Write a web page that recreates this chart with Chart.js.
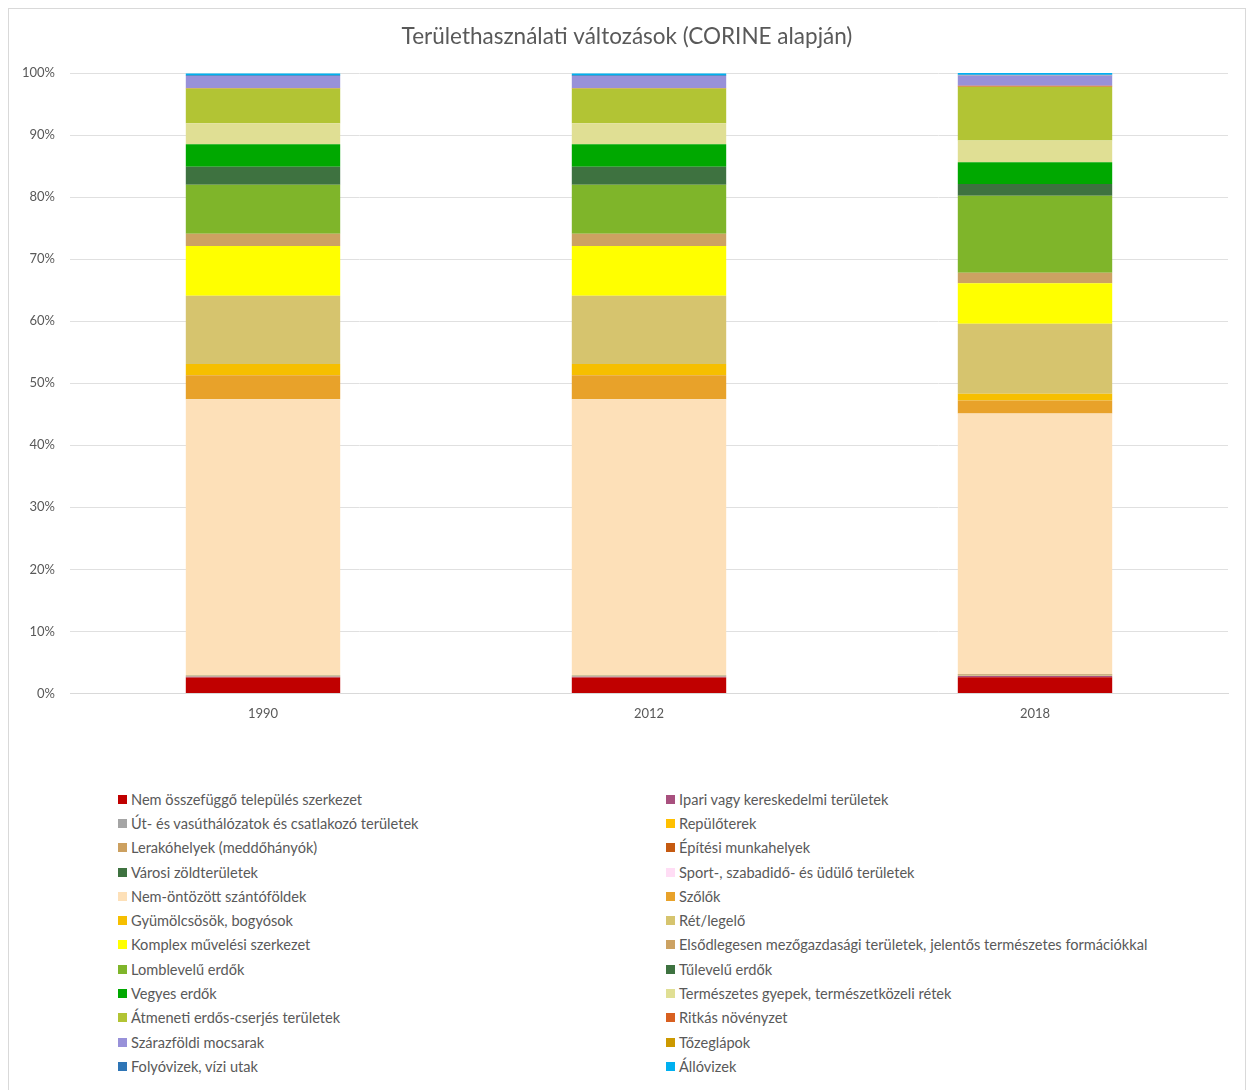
<!DOCTYPE html>
<html>
<head>
<meta charset="utf-8">
<script src="https://cdn.jsdelivr.net/npm/chart.js@4/dist/chart.umd.min.js"></script>
<style>
  html, body { margin: 0; padding: 0; background: #fff; }
  body { width: 1254px; height: 1090px; position: relative; overflow: hidden; font-family: Lato, "Open Sans", sans-serif; }
  #frame { position: absolute; left: 8px; top: 8px; width: 1238px; height: 1090px; border: 1px solid #D9D9D9; box-sizing: border-box; }
  #wrap { position: absolute; left: 0; top: 0; width: 1254px; height: 740px; }
  #legend { position: absolute; left: 118px; top: 787px; width: 1100px; display: grid; grid-template-columns: 548px 552px; grid-auto-rows: 24.3px; color: #595959; font-size: 14.6px; }
  .li { display: flex; align-items: center; white-space: nowrap; }
  .sw { width: 9px; height: 9px; margin-right: 4px; flex: none; }
</style>
</head>
<body>
<div id="frame"></div>
<div id="wrap"><canvas id="c" width="1254" height="740"></canvas></div>
<div id="legend"></div>
<script>
const categories = ["1990", "2012", "2018"];
const chartTitle = "Területhasználati változások (CORINE alapján)";
const tickLabels = ["0%", "10%", "20%", "30%", "40%", "50%", "60%", "70%", "80%", "90%", "100%"];

const seriesNames = [
  "Nem összefüggő település szerkezet",
  "Ipari vagy kereskedelmi területek",
  "Út- és vasúthálózatok és csatlakozó területek",
  "Repülőterek",
  "Lerakóhelyek (meddőhányók)",
  "Építési munkahelyek",
  "Városi zöldterületek",
  "Sport-, szabadidő- és üdülő területek",
  "Nem-öntözött szántóföldek",
  "Szőlők",
  "Gyümölcsösök, bogyósok",
  "Rét/legelő",
  "Komplex művelési szerkezet",
  "Elsődlegesen mezőgazdasági területek, jelentős természetes formációkkal",
  "Lomblevelű erdők",
  "Tűlevelű erdők",
  "Vegyes erdők",
  "Természetes gyepek, természetközeli rétek",
  "Átmeneti erdős-cserjés területek",
  "Ritkás növényzet",
  "Szárazföldi mocsarak",
  "Tőzeglápok",
  "Folyóvizek, vízi utak",
  "Állóvizek"
];

const seriesColors = [
  "#C00000", "#A8507E", "#A5A5A5", "#FFC000", "#CCA060", "#C55A11",
  "#3E7240", "#FFDDF5", "#FDE0B8", "#E8A22A", "#F6BF00", "#D6C46E",
  "#FFFF00", "#CCA262", "#7FB52A", "#3E7240", "#00A800", "#E0DF94",
  "#B2C434", "#D86020", "#9891D9", "#CC9900", "#2E75B6", "#00B0F0"
];

// values in % for 1990, 2012, 2018
const v_nemOsszefuggo = [2.55, 2.55, 2.6];
const v_ipari = [0.15, 0.15, 0.2];
const v_ut = [0.08, 0.08, 0.1];
const v_repulo = [0.03, 0.03, 0.05];
const v_lerako = [0.02, 0.02, 0.05];
const v_epitesi = [0.02, 0.02, 0.05];
const v_varosiZold = [0.03, 0.03, 0.03];
const v_sport = [0.02, 0.02, 0.02];
const v_nemOntozott = [44.5, 44.5, 42.0];
const v_szolok = [3.9, 3.9, 2.1];
const v_gyumolcs = [1.8, 1.8, 1.1];
const v_ret = [11.0, 11.0, 11.3];
const v_komplex = [8.0, 8.0, 6.5];
const v_elsodleges = [2.0, 2.0, 1.7];
const v_lomb = [7.9, 7.9, 12.4];
const v_tuleveluu = [2.9, 2.9, 1.9];
const v_vegyes = [3.6, 3.6, 3.5];
const v_gyepek = [3.4, 3.4, 3.5];
const v_atmeneti = [5.6, 5.6, 8.7];
const v_ritkas = [0.1, 0.1, 0.15];
const v_mocsarak = [1.9, 1.9, 1.65];
const v_tozeg = [0.02, 0.02, 0.02];
const v_folyo = [0.1, 0.1, 0.1];
const v_allo = [0.3, 0.3, 0.3];

const seriesValues = [
  v_nemOsszefuggo, v_ipari, v_ut, v_repulo, v_lerako, v_epitesi, v_varosiZold, v_sport,
  v_nemOntozott, v_szolok, v_gyumolcs, v_ret, v_komplex, v_elsodleges, v_lomb, v_tuleveluu,
  v_vegyes, v_gyepek, v_atmeneti, v_ritkas, v_mocsarak, v_tozeg, v_folyo, v_allo
];

const datasets = seriesNames.map((name, i) => ({
  label: name,
  data: seriesValues[i],
  backgroundColor: seriesColors[i],
  borderWidth: 0,
  categoryPercentage: 1.0,
  barPercentage: 0.4,
  stack: "s",
  yAxisID: "y"
}));

const FONT = "Lato, 'Open Sans', sans-serif";

new Chart(document.getElementById("c"), {
  type: "bar",
  data: { labels: categories, datasets },
  options: {
    responsive: false,
    animation: false,
    layout: { padding: { left: 0, right: 0, top: 0, bottom: 13 } },
    plugins: {
      legend: { display: false },
      tooltip: { enabled: false },
      title: {
        display: true,
        text: chartTitle,
        color: "#595959",
        font: { family: FONT, size: 22.5, weight: "normal" },
        padding: { top: 23.5, bottom: 22.5 }
      }
    },
    scales: {
      x: {
        stacked: true,
        grid: { display: false },
        border: { display: true, color: "#D9D9D9" },
        ticks: { color: "#595959", font: { family: FONT, size: 13 }, padding: 5 }
      },
      y: {
        stacked: true,
        min: 0, max: 100,
        afterFit: (s) => { s.width = 70; },
        grid: { color: "#E0E0E0", drawTicks: false },
        border: { display: false },
        ticks: {
          stepSize: 10,
          padding: 15,
          color: "#595959",
          font: { family: FONT, size: 13 },
          callback: (v) => tickLabels[Math.round(v / 10)]
        }
      },
      yR: {
        position: "right",
        min: 0, max: 1,
        afterFit: (s) => { s.width = 26; },
        grid: { display: false },
        border: { display: false },
        ticks: { display: false }
      }
    }
  }
});

const lg = document.getElementById("legend");
seriesNames.forEach((name, i) => {
  const d = document.createElement("div");
  d.className = "li";
  const s = document.createElement("span");
  s.className = "sw";
  s.style.background = seriesColors[i];
  const t = document.createElement("span");
  t.textContent = name;
  d.appendChild(s); d.appendChild(t);
  lg.appendChild(d);
});
</script>
</body>
</html>
